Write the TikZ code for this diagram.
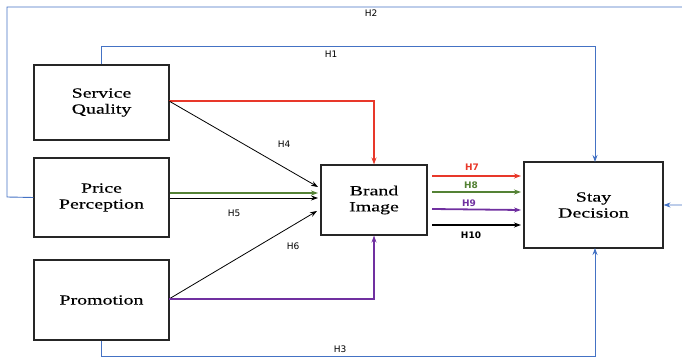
\documentclass[tikz,border=0pt]{standalone}
\usepackage{fontspec}
\setmainfont{Liberation Serif}
\newfontfamily\boxfont[FakeStretch=1.42,FakeBold=0.3]{Liberation Serif}
\newfontfamily\lblfont{DejaVu Sans}
\usetikzlibrary{arrows.meta}
\definecolor{hblue}{RGB}{68,114,196}
\definecolor{hred}{RGB}{232,56,42}
\definecolor{hgreen}{RGB}{84,130,53}
\definecolor{hpurple}{RGB}{112,48,160}
\begin{document}
\begin{tikzpicture}[x=1pt,y=-1pt,
  box/.style={draw=black!85,line width=1.1pt,fill=white,align=center,font=\boxfont\fontsize{14}{16}\selectfont,inner sep=0pt},
  lbl/.style={font=\lblfont\fontsize{9}{10}\selectfont},
  blbl/.style={font=\lblfont\bfseries\fontsize{9}{10}\selectfont},
  blue/.style={draw=hblue,line width=0.9pt},
  arr/.style={-{Stealth[length=7pt,width=5pt]}},
  thick2/.style={line width=1.8pt}]
\useasboundingbox (0,0) rectangle (682,358);
\node[box,minimum width=135pt,minimum height=75pt] (sq) at (101.5,102.5) {Service\\Quality};
\node[box,minimum width=135pt,minimum height=79pt] (pp) at (101.5,197.5) {Price\\Perception};
\node[box,minimum width=135pt,minimum height=80pt] (pr) at (101.5,300) {Promotion};
\node[box,minimum width=106pt,minimum height=70pt] (bi) at (374,200) {Brand\\Image};
\node[box,minimum width=139pt,minimum height=86pt] (sd) at (593.5,205) {Stay\\Decision};
% H2
\coordinate (h2a) at (7,197);
\coordinate (h2b) at (7,7);
\coordinate (h2c) at (686,7);
\coordinate (h2d) at (686,205);
\draw[blue,arr] (pp.west) -- (h2a) -- (h2b) -- (h2c) -- (h2d) -- (sd.east);
\node[lbl] (lh2) at (371,13) {H2};
% H1
\draw[blue,arr] (sq.north) -- (101.5,46) -- (595,46) -- (595,162);
\node[lbl] (lh1) at (331,54) {H1};
% H3
\draw[blue,arr] (pr.south) -- (101.5,356) -- (595,356) -- (595,248);
\node[lbl] (lh3) at (340,349) {H3};
% red
\draw[draw=hred,thick2,arr] (169,101) -- (374,101) -- (bi.north);
% H4
\draw[line width=0.8pt,arr] (169,101) -- (318,187);
\node[lbl] (lh4) at (284,144) {H4};
% H5
\draw[draw=hgreen,thick2,arr] (170,193) -- (318,193);
\draw[line width=0.8pt,arr] (170,198) -- (318,198);
\node[lbl] (lh5) at (234,213) {H5};
% H6
\draw[line width=0.8pt,arr] (169,299) -- (317,211);
\node[lbl] (lh6) at (293,246) {H6};
% purple
\draw[draw=hpurple,thick2,arr] (169,299) -- (374,299) -- (bi.south);
% H7-H10
\draw[draw=hred,thick2,arr] (432,176) -- (521,176);
\node[blbl,text=hred] (lh7) at (472,167) {H7};
\draw[draw=hgreen,thick2,arr] (432,192) -- (521,192);
\node[blbl,text=hgreen] (lh8) at (471,185) {H8};
\draw[draw=hpurple,thick2,arr] (432,209) -- (521,210);
\node[blbl,text=hpurple] (lh9) at (469,203) {H9};
\draw[thick2,arr] (432,225) -- (521,225);
\node[blbl] (lh10) at (471,235) {H10};
\end{tikzpicture}
\end{document}
